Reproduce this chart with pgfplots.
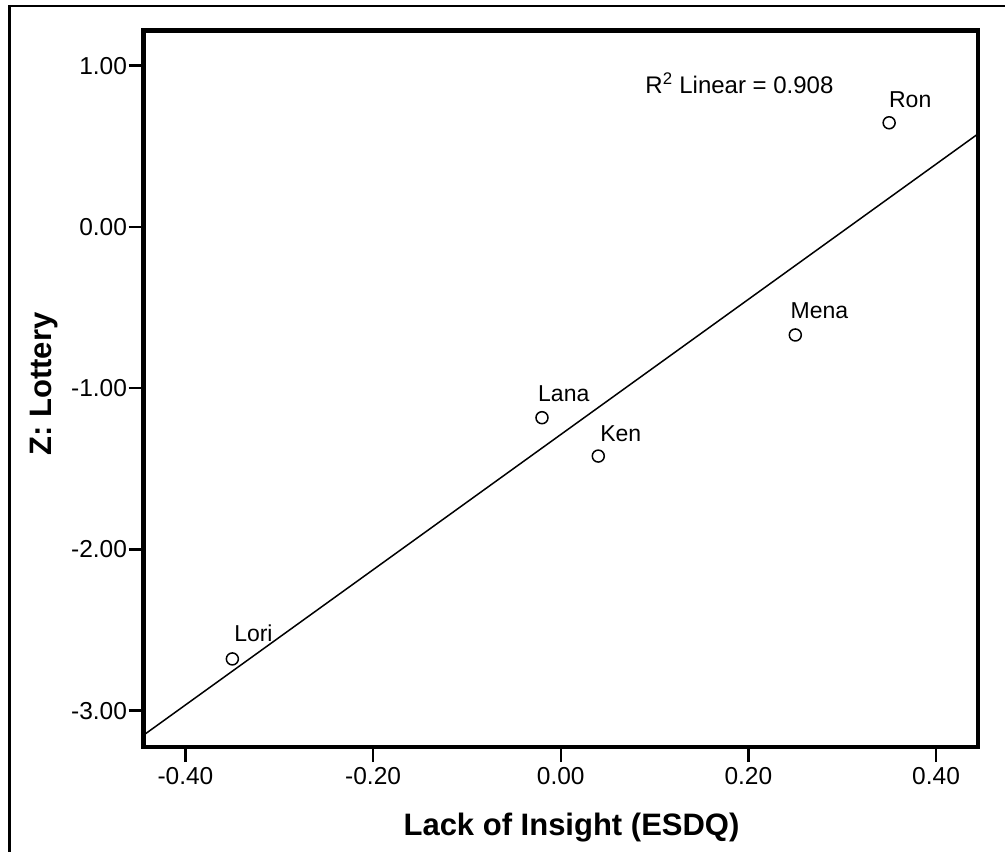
\documentclass[border=0pt]{standalone}
\usepackage{pgfplots}
\pgfplotsset{compat=1.18}
\usepackage{fontspec}
\setmainfont{Liberation Sans}
\newcommand{\ticklab}{\fontsize{24.5bp}{28bp}\selectfont}
\newcommand{\ptlab}{\fontsize{23bp}{27bp}\selectfont}
\newcommand{\rlab}{\fontsize{24bp}{28bp}\selectfont}
\newcommand{\axlab}{\fontsize{31bp}{36bp}\selectfont\bfseries}
\begin{document}
\begin{tikzpicture}
\useasboundingbox (-143.7bp,-104.8bp) rectangle (861.3bp,747.2bp);
\draw[line width=2.2bp] (-134.2bp,-104.8bp) -- (-134.2bp,741bp) -- (861.3bp,741bp);
\begin{axis}[
  at={(0,0)}, anchor=south west,
  scale only axis, width=834.1bp, height=716.9bp,
  xmin=-0.4445, xmax=0.4445, ymin=-3.2264, ymax=1.2195,
  axis line style={line width=4.5bp, line join=miter},
  xtick={-0.4,-0.2,0,0.2,0.4},
  xticklabels={-0.40,-0.20,0.00,0.20,0.40},
  ytick={-3,-2,-1,0,1},
  yticklabels={-3.00,-2.00,-1.00,0.00,1.00},
  xtick pos=bottom, ytick pos=left,
  tick align=outside,
  major tick length=15bp,
  tick style={line width=2.5bp, black},
  xticklabel style={font=\ticklab, inner sep=0pt, anchor=north, yshift=-5bp},
  yticklabel style={font=\ticklab, inner sep=0pt, anchor=east, xshift=-1.5bp},
  xlabel={Lack of Insight (ESDQ)},
  ylabel={Z: Lottery},
  xlabel style={font=\axlab, at={(axis description cs:0.5129,-0.1125)}, anchor=center},
  ylabel style={font=\axlab, at={(axis description cs:-0.1195,0.5066)}, anchor=center},
]
\addplot[black, line width=1.5bp, no marks] coordinates {(-0.4445,-3.151) (0.4445,0.576)};
\addplot[only marks, mark=o, mark size=6bp, mark options={line width=1.5bp, black}] coordinates {
  (-0.350,-2.679)
  (-0.020,-1.183)
  (0.040,-1.421)
  (0.250,-0.670)
  (0.350,0.646)
};
\node[anchor=base west, inner sep=0pt, font=\ptlab, xshift=1.7bp, yshift=17bp] at (axis cs:-0.350,-2.679) {Lori};
\node[anchor=base west, inner sep=0pt, font=\ptlab, xshift=-4.0bp, yshift=16bp] at (axis cs:-0.020,-1.183) {Lana};
\node[anchor=base west, inner sep=0pt, font=\ptlab, xshift=1.8bp, yshift=15bp] at (axis cs:0.040,-1.421) {Ken};
\node[anchor=base west, inner sep=0pt, font=\ptlab, xshift=-4.9bp, yshift=16.7bp] at (axis cs:0.250,-0.670) {Mena};
\node[anchor=base west, inner sep=0pt, font=\ptlab, xshift=-0.2bp, yshift=15bp] at (axis cs:0.350,0.646) {Ron};
\node[anchor=base west, inner sep=0pt, font=\rlab] at (axis cs:0.0901,0.8245) {R\textsuperscript{2} Linear = 0.908};
\end{axis}
\end{tikzpicture}
\end{document}
